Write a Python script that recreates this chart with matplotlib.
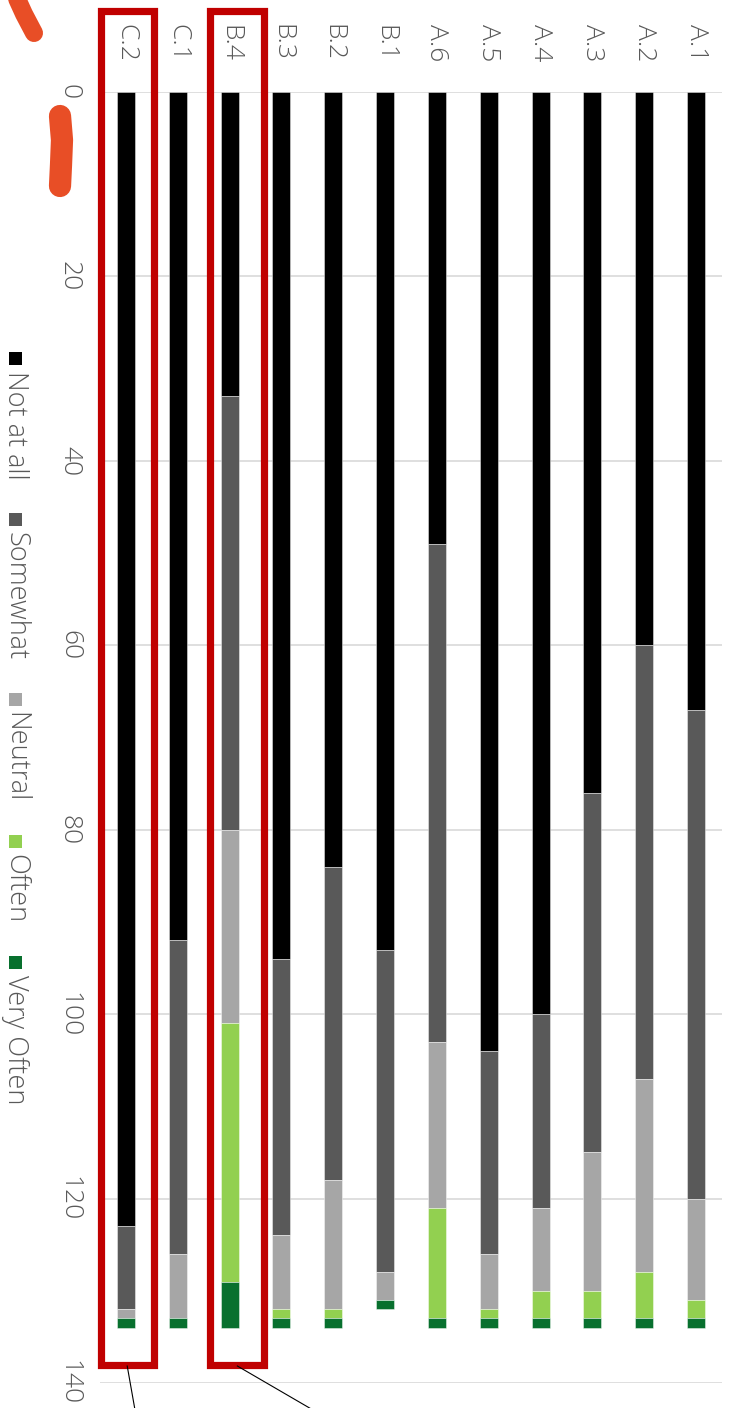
import matplotlib
matplotlib.use("Agg")
import matplotlib.pyplot as plt
from matplotlib.patches import Rectangle
from matplotlib.lines import Line2D
import numpy as np

# Survey items, left to right
categories = ["C.2", "C.1", "B.4", "B.3", "B.2", "B.1",
              "A.6", "A.5", "A.4", "A.3", "A.2", "A.1"]

series_names = ["Not at all", "Somewhat", "Neutral", "Often", "Very Often"]
series_colors = ["#000000", "#595959", "#a6a6a6", "#92d050", "#08702e"]

not_at_all = [123, 92, 33, 94, 84, 93, 49, 104, 100, 76, 60, 67]
somewhat   = [9, 34, 47, 30, 34, 35, 54, 22, 21, 39, 47, 53]
neutral    = [1, 7, 21, 8, 14, 3, 18, 6, 9, 15, 21, 11]
often      = [0, 0, 28, 1, 1, 0, 12, 1, 3, 3, 5, 2]
very_often = [1, 1, 5, 1, 1, 1, 1, 1, 1, 1, 1, 1]

value_ticks = [0, 20, 40, 60, 80, 100, 120, 140]
highlighted = ["C.2", "B.4"]

W, H = 733, 1408
TEXT = "#595959"
FONT = ["Open Sans", "DejaVu Sans"]

fig = plt.figure(figsize=(W / 100, H / 100), dpi=100)
fig.patch.set_facecolor("white")


def fx(x):
    return x / W


def fy(y):
    return 1 - y / H


ax = fig.add_axes([fx(100), fy(1383), (722 - 100) / W, (1383 - 92) / H])

series = [not_at_all, somewhat, neutral, often, very_often]
xpos = np.arange(len(categories))
base = np.zeros(len(categories))
for vals, name, col in zip(series, series_names, series_colors):
    vals = np.array(vals, dtype=float)
    ax.bar(xpos, vals, bottom=base, width=0.35, color=col, label=name,
           edgecolor=(1, 1, 1, 0.5), linewidth=0.6, zorder=3)
    base += vals

ax.set_xlim(-0.5, len(categories) - 0.5)
ax.set_ylim(140, 0)
ax.set_yticks(value_ticks)
ax.yaxis.grid(True, color="#d9d9d9", linewidth=1.2, zorder=0)
ax.set_axisbelow(True)
for s in ax.spines.values():
    s.set_visible(False)

ax.xaxis.tick_top()
ax.set_xticks(xpos)
ax.set_xticklabels(categories, rotation=-90, fontsize=19, color=TEXT,
                   family=FONT, fontweight="light", va="bottom", ha="center")
ax.set_yticklabels([str(v) for v in value_ticks], rotation=-90, fontsize=19,
                   color=TEXT, family=FONT, fontweight="light",
                   va="center", ha="center")
ax.tick_params(axis="x", length=0, pad=22)
ax.tick_params(axis="y", length=0, pad=22)

# Highlight boxes around selected items, with leader lines
box_spans = [(-0.49, 0.54), (-0.37, 0.67)]
leader_ends = [(135, 1410), (313, 1410)]
for name, (lo, hi), end in zip(highlighted, box_spans, leader_ends):
    i = categories.index(name)
    rect = Rectangle((i + lo, -8.8), hi - lo, 146.9, transform=ax.transData,
                     fill=False, edgecolor="#c00000", linewidth=5.2,
                     clip_on=False, zorder=5)
    ax.add_patch(rect)
    xc_disp = ax.transData.transform((i + (lo + hi) / 2, 0))[0]
    xc = xc_disp / fig.dpi / fig.get_figwidth() * W
    fig.add_artist(Line2D([fx(xc), fx(end[0])], [fy(1366), fy(end[1])],
                          color="black", linewidth=0.8, zorder=6))

# Hand-drawn marker strokes
fig.add_artist(Line2D([fx(14), fx(24), fx(34)], [fy(-8), fy(14), fy(33)],
                      color="#e84e26", linewidth=13, solid_capstyle="round",
                      zorder=7))
fig.add_artist(Line2D([fx(60), fx(62), fx(61), fx(60)],
                      [fy(116), fy(140), fy(165), fy(186)],
                      color="#e84e26", linewidth=16, solid_capstyle="round",
                      zorder=7))

# Legend laid out along the left edge
fig.canvas.draw()
renderer = fig.canvas.get_renderer()
ypos = 352
sq = 13
for name, col in zip(series_names, series_colors):
    fig.add_artist(Rectangle((fx(15 - sq / 2), fy(ypos + sq)), sq / W, sq / H,
                             transform=fig.transFigure, facecolor=col,
                             edgecolor="none"))
    t = fig.text(fx(15), fy(ypos + sq + 6), name, rotation=-90, ha="center",
                 va="top", fontsize=19.5, color=TEXT, family=FONT,
                 fontweight="light")
    ext = t.get_window_extent(renderer)
    ypos = ypos + sq + 6 + ext.height + 33

fig.savefig("out.png", dpi=100, facecolor="white")
